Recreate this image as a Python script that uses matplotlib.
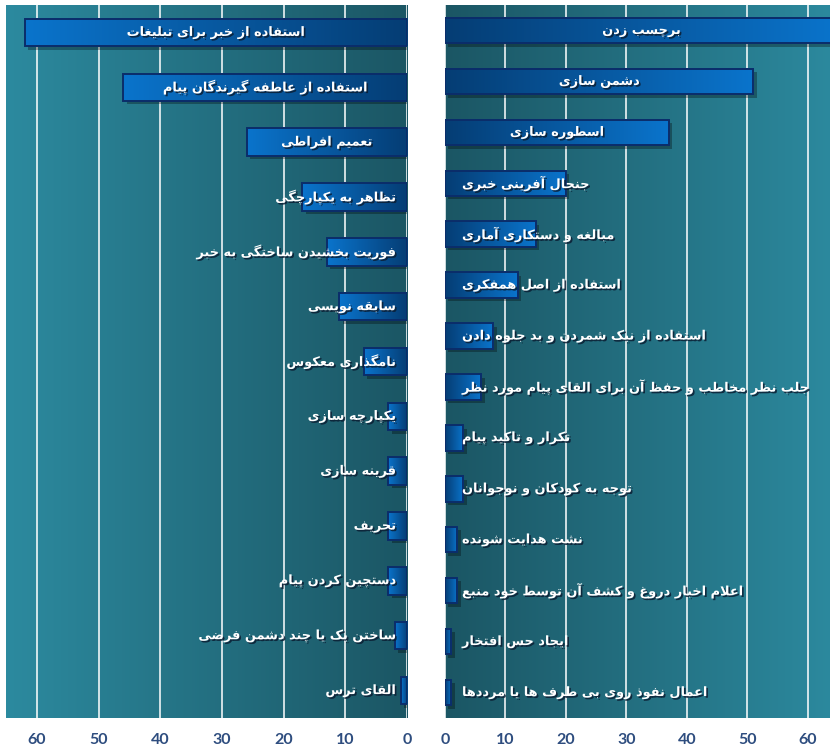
import numpy as np
import matplotlib.pyplot as plt
import matplotlib.patheffects as pe
from matplotlib.colors import LinearSegmentedColormap

# Left panel data (top to bottom)
left_labels = [
    'استفاده از خبر برای تبلیغات',
    'استفاده از عاطفه گیرندگان پیام',
    'تعمیم افراطی',
    'تظاهر به یکپارچگی',
    'فوریت بخشیدن ساختگی به خبر',
    'سابقه نویسی',
    'نامگذاری معکوس',
    'یکپارچه سازی',
    'قرینه سازی',
    'تحریف',
    'دستچین کردن پیام',
    'ساختن یک یا چند دشمن فرضی',
    'القای ترس',
]
left_values = [62, 46, 26, 17, 13, 11, 7, 3, 3, 3, 3, 2, 1]

# Right panel data (top to bottom)
right_labels = [
    'برچسب زدن',
    'دشمن سازی',
    'اسطوره سازی',
    'جنجال آفرینی خبری',
    'مبالغه و دستکاری آماری',
    'استفاده از اصل همفکری',
    'استفاده از نیک شمردن و بد جلوه دادن',
    'جلب نظر مخاطب و حفظ آن برای القای پیام مورد نظر',
    'تکرار و تاکید پیام',
    'توجه به کودکان و نوجوانان',
    'نشت هدایت شونده',
    'اعلام اخبار دروغ و کشف آن توسط خود منبع',
    'ایجاد حس افتخار',
    'اعمال نفوذ روی بی طرف ها یا مرددها',
]
right_values = [65, 51, 37, 20, 15, 12, 8, 6, 3, 3, 2, 2, 1, 1]

ticks = [0, 10, 20, 30, 40, 50, 60]

# simple arabic/persian shaping (matplotlib has no shaping / bidi)
# char: (isolated, final, initial, medial)
FORMS = {
    'ا': (0xFE8D, 0xFE8E, None, None), 'آ': (0xFE81, 0xFE82, None, None),
    'ب': (0xFE8F, 0xFE90, 0xFE91, 0xFE92), 'پ': (0xFB56, 0xFB57, 0xFB58, 0xFB59),
    'ت': (0xFE95, 0xFE96, 0xFE97, 0xFE98), 'ث': (0xFE99, 0xFE9A, 0xFE9B, 0xFE9C),
    'ج': (0xFE9D, 0xFE9E, 0xFE9F, 0xFEA0), 'چ': (0xFB7A, 0xFB7B, 0xFB7C, 0xFB7D),
    'ح': (0xFEA1, 0xFEA2, 0xFEA3, 0xFEA4), 'خ': (0xFEA5, 0xFEA6, 0xFEA7, 0xFEA8),
    'د': (0xFEA9, 0xFEAA, None, None), 'ذ': (0xFEAB, 0xFEAC, None, None),
    'ر': (0xFEAD, 0xFEAE, None, None), 'ز': (0xFEAF, 0xFEB0, None, None),
    'ژ': (0xFB8A, 0xFB8B, None, None),
    'س': (0xFEB1, 0xFEB2, 0xFEB3, 0xFEB4), 'ش': (0xFEB5, 0xFEB6, 0xFEB7, 0xFEB8),
    'ص': (0xFEB9, 0xFEBA, 0xFEBB, 0xFEBC), 'ض': (0xFEBD, 0xFEBE, 0xFEBF, 0xFEC0),
    'ط': (0xFEC1, 0xFEC2, 0xFEC3, 0xFEC4), 'ظ': (0xFEC5, 0xFEC6, 0xFEC7, 0xFEC8),
    'ع': (0xFEC9, 0xFECA, 0xFECB, 0xFECC), 'غ': (0xFECD, 0xFECE, 0xFECF, 0xFED0),
    'ف': (0xFED1, 0xFED2, 0xFED3, 0xFED4), 'ق': (0xFED5, 0xFED6, 0xFED7, 0xFED8),
    'ک': (0xFB8E, 0xFB8F, 0xFB90, 0xFB91), 'گ': (0xFB92, 0xFB93, 0xFB94, 0xFB95),
    'ل': (0xFEDD, 0xFEDE, 0xFEDF, 0xFEE0), 'م': (0xFEE1, 0xFEE2, 0xFEE3, 0xFEE4),
    'ن': (0xFEE5, 0xFEE6, 0xFEE7, 0xFEE8), 'و': (0xFEED, 0xFEEE, None, None),
    'ه': (0xFEE9, 0xFEEA, 0xFEEB, 0xFEEC), 'ی': (0xFBFC, 0xFBFD, 0xFBFE, 0xFBFF),
}
LAM_ALEF = {'ا': (0xFEFB, 0xFEFC), 'آ': (0xFEF5, 0xFEF6)}


def shape(s):
    # merge lam-alef into one token
    tokens = []
    i = 0
    while i < len(s):
        if s[i] == 'ل' and i + 1 < len(s) and s[i + 1] in LAM_ALEF:
            tokens.append('LA' + s[i + 1])
            i += 2
        else:
            tokens.append(s[i])
            i += 1

    def joins_fwd(t):
        if t.startswith('LA'):
            return False
        return t in FORMS and FORMS[t][2] is not None

    def is_letter(t):
        return t.startswith('LA') or t in FORMS

    out = []
    for k, t in enumerate(tokens):
        prev = tokens[k - 1] if k > 0 else None
        nxt = tokens[k + 1] if k + 1 < len(tokens) else None
        jp = prev is not None and joins_fwd(prev)
        if t.startswith('LA'):
            iso, fin = LAM_ALEF[t[2]]
            out.append(chr(fin if jp else iso))
            continue
        if t not in FORMS:
            out.append(t)
            continue
        iso, fin, ini, med = FORMS[t]
        jn = ini is not None and nxt is not None and is_letter(nxt)
        if jp and jn:
            c = med
        elif jp:
            c = fin
        elif jn:
            c = ini
        else:
            c = iso
        out.append(chr(c))
    return ''.join(reversed(out))


fig = plt.figure(figsize=(8.3, 7.48), dpi=100, facecolor='white')
ax_l = fig.add_axes([6 / 830, 30 / 748, 401 / 830, 713 / 748])
ax_r = fig.add_axes([445 / 830, 30 / 748, 393 / 830, 713 / 748])

bg_cmap = LinearSegmentedColormap.from_list('bg', ['#1b5664', '#2c8a9f'])
bar_cmap = LinearSegmentedColormap.from_list('bar', ['#053d74', '#0a74cc'])
grad = np.linspace(0, 1, 256).reshape(1, -1)

txt_fx = [pe.withSimplePatchShadow(offset=(1.2, -1.2), shadow_rgbFace='#0b1e33', alpha=0.85)]
bar_fx = [pe.SimplePatchShadow(offset=(2.5, -2.5), shadow_rgbFace='black', alpha=0.3)]


def draw_panel(ax, labels, values, side):
    n = len(labels)
    y = np.arange(n)
    # background gradient (dark next to zero)
    bg = grad if side == 'right' else grad[:, ::-1]
    ax.imshow(bg, extent=[0, 1, 0, 1], transform=ax.transAxes, cmap=bg_cmap,
              aspect='auto', zorder=0, interpolation='bilinear')

    ax.barh(y, values, height=0.5, color='none', edgecolor='none',
            path_effects=bar_fx, zorder=1.5)
    bars = ax.barh(y, values, height=0.5, color='none', edgecolor='#0b2d6a',
                   linewidth=1.4, zorder=3)
    for p in bars:
        x0, w = p.get_x(), p.get_width()
        y0, h = p.get_y(), p.get_height()
        ax.imshow(grad, extent=[x0, x0 + w, y0, y0 + h], cmap=bar_cmap,
                  aspect='auto', zorder=2, interpolation='bilinear')

    ax.set_ylim(n - 0.5, -0.5)
    if side == 'left':
        ax.set_xlim(65, 0)
    else:
        ax.set_xlim(0, 65)
    ax.set_yticks([])
    ax.set_xticks(ticks, labels=[str(t) for t in ticks], fontweight='bold',
                  fontfamily='Lato')
    ax.tick_params(axis='x', length=0, pad=11, labelsize=11.5, labelcolor='#2e4d7f')
    ax.grid(axis='x', color='white', linewidth=1.3, alpha=0.85)
    ax.set_axisbelow(True)
    for s in ax.spines.values():
        s.set_visible(False)

    texts = []
    for yi, lab, v in zip(y, labels, values):
        t = ax.text(v / 2, yi, shape(lab), ha='center', va='center', color='white',
                    fontsize=9.3, fontweight='bold', fontfamily='DejaVu Sans',
                    path_effects=txt_fx, zorder=5)
        texts.append(t)
    return texts


texts_l = draw_panel(ax_l, left_labels, left_values, 'left')
texts_r = draw_panel(ax_r, right_labels, right_values, 'right')

# keep labels inside the plot area, like the spreadsheet does
fig.canvas.draw()
renderer = fig.canvas.get_renderer()
for ax, texts, side in [(ax_l, texts_l, 'left'), (ax_r, texts_r, 'right')]:
    inv = ax.transData.inverted()
    for t in texts:
        bb = t.get_window_extent(renderer)
        x_pos, y_pos = t.get_position()
        zero_px = ax.transData.transform((0, y_pos))[0]
        if side == 'left':
            limit = zero_px - 11
            if bb.x1 > limit:
                t.set_ha('right')
                t.set_x(inv.transform((limit, 0))[0])
        else:
            limit = zero_px + 17
            if bb.x0 < limit:
                t.set_ha('left')
                t.set_x(inv.transform((limit, 0))[0])

fig.savefig('out.png', dpi=100, facecolor='white')
